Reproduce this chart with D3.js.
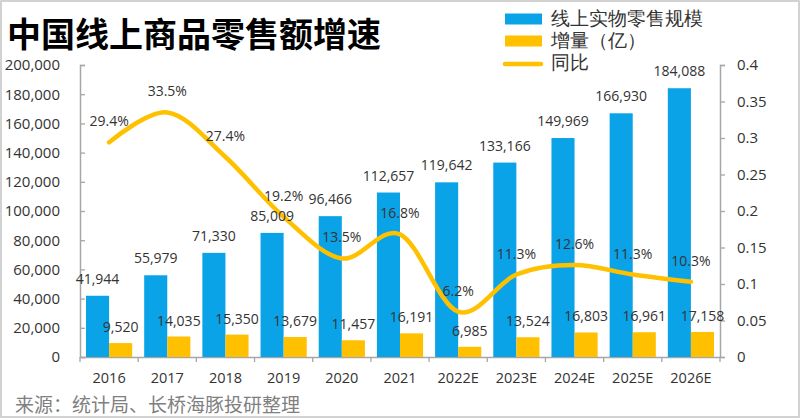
<!DOCTYPE html>
<html>
<head>
<meta charset="utf-8">
<script src="https://cdn.jsdelivr.net/npm/d3@7"></script>
<style>
  body { margin: 0; background: #fff; }
  svg text { font-family: "Open Sans", "Noto Sans", sans-serif; }
</style>
</head>
<body>
<div id="chart"></div>
<script>
// data
const categories = ["2016", "2017", "2018", "2019", "2020", "2021", "2022E", "2023E", "2024E", "2025E", "2026E"];
const onlineSales = [41944, 55979, 71330, 85009, 96466, 112657, 119642, 133166, 149969, 166930, 184088];
const increment = [9520, 14035, 15350, 13679, 11457, 16191, 6985, 13524, 16803, 16961, 17158];
const yoy = [0.294, 0.335, 0.274, 0.192, 0.135, 0.168, 0.062, 0.113, 0.126, 0.113, 0.103];
const leftTicks = [0, 20000, 40000, 60000, 80000, 100000, 120000, 140000, 160000, 180000, 200000];
const rightTicks = [0, 0.05, 0.1, 0.15, 0.2, 0.25, 0.3, 0.35, 0.4];
const legendLabels = ["线上实物零售规模", "增量（亿）", "同比"];

const W = 800, H = 419;
const margin = { top: 65, right: 80, bottom: 62, left: 80 };
const blue = "#0ba3e8", gold = "#ffc000", ink = "#333333", axisGray = "#a6a6a6";

const svg = d3.select("#chart").append("svg")
  .attr("width", W)
  .attr("height", H);

// outer frame
svg.append("rect")
  .attr("x", 1).attr("y", 1)
  .attr("width", W - 2).attr("height", H - 3)
  .attr("fill", "#fff")
  .attr("stroke", "#c4c4c4")
  .attr("stroke-width", 1.5);

const x = d3.scaleBand()
  .domain(categories)
  .range([margin.left, W - margin.right])
  .padding(0);

const x1 = d3.scaleBand()
  .domain(["sales", "inc"])
  .range([0, x.bandwidth()])
  .paddingInner(0)
  .paddingOuter(0.26);

const yL = d3.scaleLinear().domain([0, 200000]).range([H - margin.bottom, margin.top]);
const yR = d3.scaleLinear().domain([0, 0.4]).range([H - margin.bottom, margin.top]);

// title
svg.append("text")
  .attr("x", 7).attr("y", 47)
  .style("font-family", "'Noto Sans CJK SC', sans-serif")
  .style("font-weight", "bold")
  .style("font-size", "34px")
  .attr("fill", "#000")
  .text("中国线上商品零售额增速");

// left axis
const gL = svg.append("g")
  .attr("transform", `translate(${margin.left},0)`)
  .call(d3.axisLeft(yL).tickValues(leftTicks).tickFormat(d3.format(",")).tickSize(-5).tickPadding(20));
// right axis
const gR = svg.append("g")
  .attr("transform", `translate(${W - margin.right},0)`)
  .call(d3.axisRight(yR).tickValues(rightTicks).tickFormat(d3.format(".2~f")).tickSize(5).tickPadding(12));
// bottom axis, ticks on category boundaries
const gB = svg.append("g")
  .attr("transform", `translate(0,${H - margin.bottom})`)
  .call(d3.axisBottom(x).tickSize(0).tickPadding(16));
gB.selectAll(".bound")
  .data(categories.concat(["end"]))
  .join("line")
  .attr("class", "bound")
  .attr("x1", (d, i) => margin.left + i * x.step())
  .attr("x2", (d, i) => margin.left + i * x.step())
  .attr("y1", 0).attr("y2", 5)
  .attr("stroke", axisGray).attr("stroke-width", 1.3);

[gL, gR, gB].forEach(g => {
  g.select(".domain").attr("stroke", axisGray).attr("stroke-width", 1.5);
  g.selectAll(".tick line").attr("stroke", axisGray).attr("stroke-width", 1.3);
  g.selectAll(".tick text").attr("fill", ink).style("font-size", "15px")
    .style("font-family", "'Open Sans', sans-serif");
});
gB.selectAll(".tick text").style("font-size", "14.5px");

// bars
svg.append("g").selectAll("rect")
  .data(categories)
  .join("rect")
  .attr("x", d => x(d) + x1("sales"))
  .attr("y", (d, i) => yL(onlineSales[i]))
  .attr("width", x1.bandwidth())
  .attr("height", (d, i) => yL(0) - yL(onlineSales[i]))
  .attr("fill", blue);

svg.append("g").selectAll("rect")
  .data(categories)
  .join("rect")
  .attr("x", d => x(d) + x1("inc"))
  .attr("y", (d, i) => yL(increment[i]))
  .attr("width", x1.bandwidth())
  .attr("height", (d, i) => yL(0) - yL(increment[i]))
  .attr("fill", gold);

// yoy smoothed line
const line = d3.line()
  .x((d, i) => x(categories[i]) + x.bandwidth() / 2)
  .y(d => yR(d))
  .curve(d3.curveCardinal.tension(0));

svg.append("path")
  .datum(yoy)
  .attr("d", line)
  .attr("fill", "none")
  .attr("stroke", gold)
  .attr("stroke-width", 4.5)
  .attr("stroke-linecap", "round");

// data labels
const fmt = d3.format(",");
const labels = svg.append("g")
  .attr("text-anchor", "middle")
  .attr("fill", ink)
  .style("font-size", "14px");

labels.selectAll(".lab-s")
  .data(categories)
  .join("text")
  .attr("class", "lab-s")
  .attr("x", d => x(d) + x1("sales") + x1.bandwidth() / 2)
  .attr("y", (d, i) => yL(onlineSales[i]) - 12)
  .text((d, i) => fmt(onlineSales[i]));

labels.selectAll(".lab-i")
  .data(categories)
  .join("text")
  .attr("class", "lab-i")
  .attr("x", d => x(d) + x1("inc") + x1.bandwidth() / 2)
  .attr("y", (d, i) => yL(increment[i]) - 11)
  .text((d, i) => fmt(increment[i]));

labels.selectAll(".lab-y")
  .data(categories)
  .join("text")
  .attr("class", "lab-y")
  .attr("x", d => x(d) + x.bandwidth() / 2)
  .attr("y", (d, i) => yR(yoy[i]) - 16)
  .text((d, i) => d3.format(".1%")(yoy[i]));

// legend
const legend = svg.append("g")
  .style("font-family", "'Noto Sans CJK SC', sans-serif")
  .style("font-size", "18.5px")
  .attr("fill", ink);

legendLabels.forEach((name, i) => {
  const cy = 19 + i * 22;
  if (i < 2) {
    legend.append("rect")
      .attr("x", 505).attr("y", cy - 5.5)
      .attr("width", 37).attr("height", 11)
      .attr("fill", i === 0 ? blue : gold);
  } else {
    legend.append("line")
      .attr("x1", 505).attr("x2", 541)
      .attr("y1", cy + 1).attr("y2", cy + 1)
      .attr("stroke", gold).attr("stroke-width", 4.5)
      .attr("stroke-linecap", "round");
  }
  legend.append("text")
    .attr("x", 551).attr("y", cy)
    .attr("dy", "0.35em")
    .text(name);
});

// source note
svg.append("text")
  .attr("x", 15).attr("y", 405)
  .attr("dy", "0.35em")
  .style("font-family", "'Noto Sans CJK SC', sans-serif")
  .style("font-size", "19px")
  .attr("fill", "#808080")
  .text("来源：统计局、长桥海豚投研整理");
</script>
</body>
</html>
